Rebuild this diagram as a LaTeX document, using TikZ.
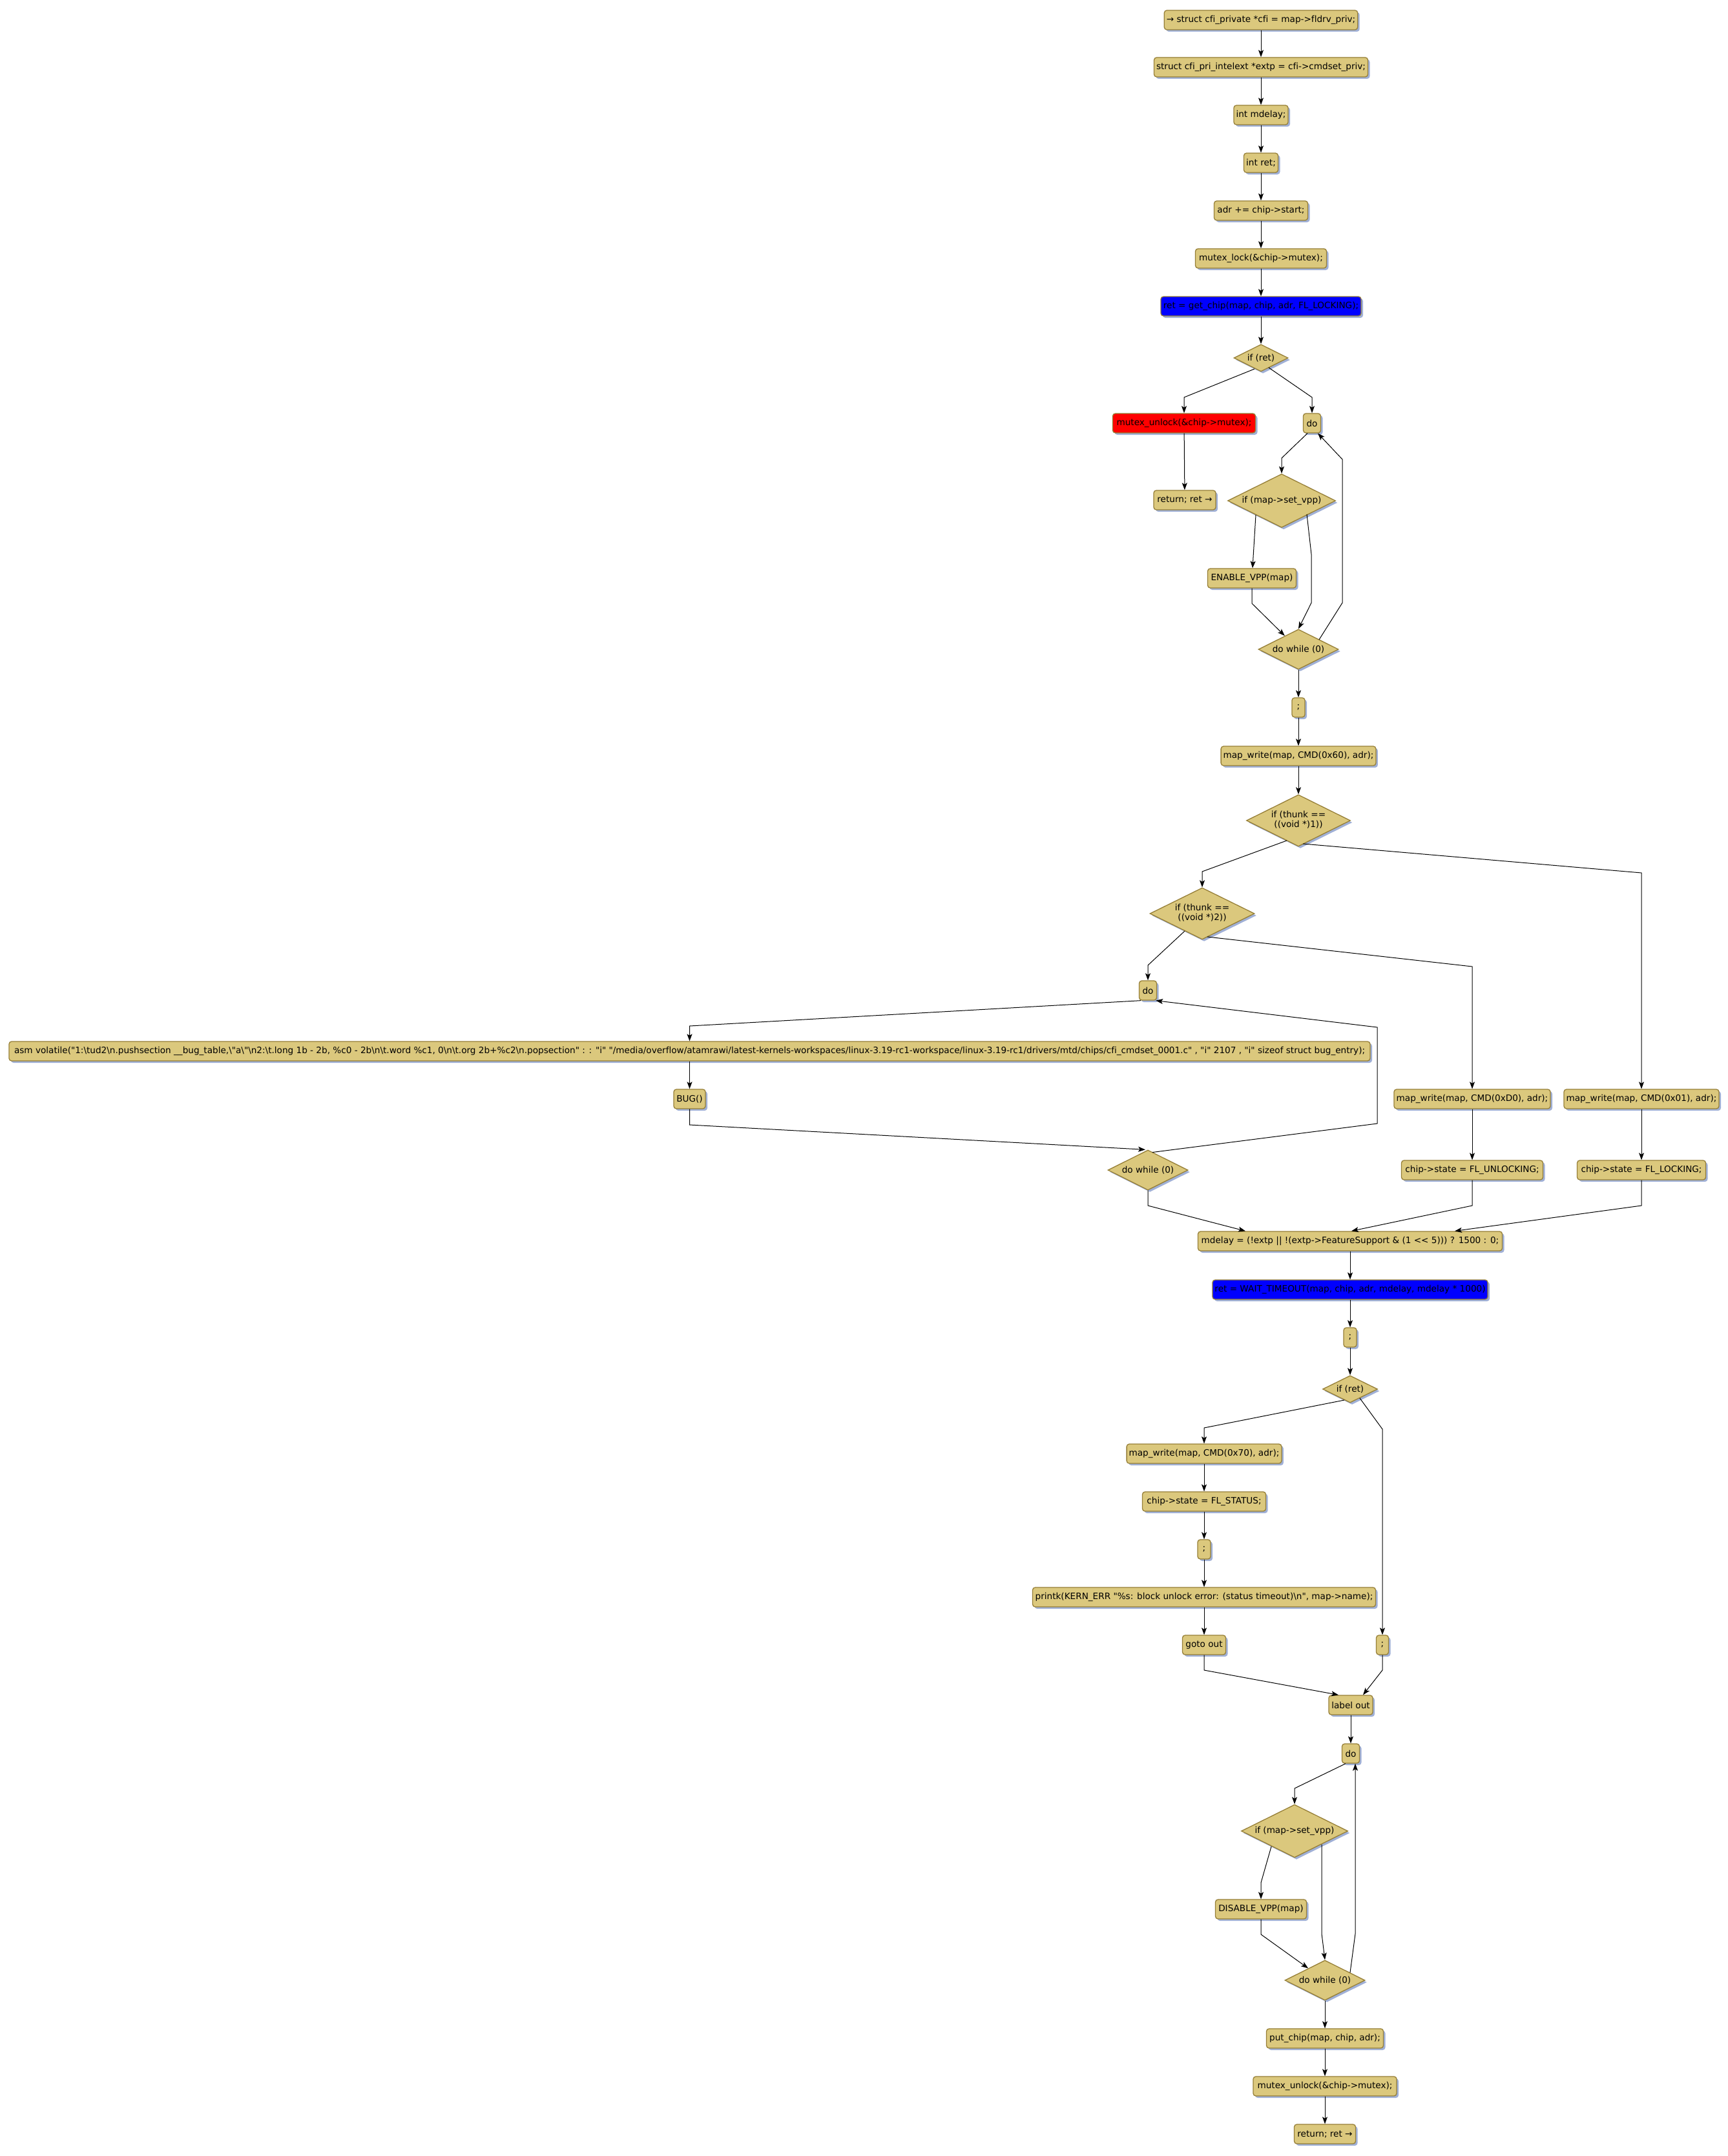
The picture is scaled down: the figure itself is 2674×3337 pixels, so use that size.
\documentclass[tikz,border=0pt]{standalone}
\usepackage{fontspec}
\setmainfont{DejaVu Sans}[Ligatures={TeXOff,CommonOff}]
\usetikzlibrary{shapes.geometric,shadows,arrows.meta}
\definecolor{boxfill}{RGB}{219,200,125}
\definecolor{boxline}{RGB}{150,127,55}
\definecolor{shadowcol}{RGB}{160,176,214}
\definecolor{blueflat}{RGB}{0,0,255}
\definecolor{redflat}{RGB}{255,0,0}
\newcommand\bsl{\textbackslash}
\newcommand\nodefont{\fontsize{13.6}{15.4}\selectfont}
\newcommand\twoline[2]{\makebox[0pt]{\begin{tabular}{@{}c@{}}#1\\#2\end{tabular}}}
\begin{document}
\begin{tikzpicture}[x=1pt,y=-1pt,
  shad/.style={drop shadow={shadow xshift=3pt,shadow yshift=-3pt,fill=shadowcol,opacity=1}},
  box/.style={rectangle,draw=boxline,fill=boxfill,rounded corners=4pt,line width=1.3pt,
    minimum height=30pt,inner xsep=3.5pt,inner ysep=0pt,font=\nodefont,shad},
  bluebox/.style={box,fill=blueflat},
  redbox/.style={box,fill=redflat},
  dia/.style={diamond,draw=boxline,fill=boxfill,line width=1.3pt,inner sep=0pt,font=\nodefont,shad},
  arr/.style={draw=black,line width=1pt,-{Stealth[length=11pt,width=8pt,inset=2.5pt]}}
]
\useasboundingbox (0,0) rectangle (2674,3337);
\fill[white] (0,0) rectangle (2674,3337);

% ---- nodes
\node[box,minimum width=294pt] (n1) at (1952,31) {→ struct cfi\_private *cfi = map->fldrv\_priv;};
\node[box,minimum width=330pt] (n2) at (1952,104) {struct cfi\_pri\_intelext *extp = cfi->cmdset\_priv;};
\node[box,minimum width=84pt] (n3) at (1952,178) {int mdelay;};
\node[box,minimum width=53pt] (n4) at (1952,252) {int ret;};
\node[box,minimum width=145pt] (n5) at (1952,326) {adr += chip->start;};
\node[box,minimum width=203pt] (n6) at (1952,400) {mutex\_lock(\&chip->mutex);};
\node[bluebox,minimum width=310pt] (n7) at (1952,474) {ret = get\_chip(map, chip, adr, FL\_LOCKING);};
\node[dia,minimum width=84pt,minimum height=42pt] (d1) at (1952,554) {\makebox[0pt]{if (ret)}};
\node[redbox,minimum width=221pt] (n8) at (1833,655) {mutex\_unlock(\&chip->mutex);};
\node[box,minimum width=27pt] (n9) at (2031,655) {do};
\node[box,minimum width=96pt] (n10) at (1834,774) {return; ret →};
\node[dia,minimum width=167pt,minimum height=83pt] (d2) at (1984,775) {\makebox[0pt]{if (map->set\_vpp)}};
\node[box,minimum width=137pt] (n11) at (1938,895) {ENABLE\_VPP(map)};
\node[dia,minimum width=124pt,minimum height=62pt] (d3) at (2010,1005) {\makebox[0pt]{do while (0)}};
\node[box,minimum width=20pt] (n12) at (2010,1095) {;};
\node[box,minimum width=239pt] (n13) at (2010,1170) {map\_write(map, CMD(0x60), adr);};
\node[dia,minimum width=161pt,minimum height=80pt] (d4) at (2010,1270) {\twoline{if (thunk ==}{((void *)1))}};
\node[dia,minimum width=162pt,minimum height=80pt] (d5) at (1861,1414) {\twoline{if (thunk ==}{((void *)2))}};
\node[box,minimum width=27pt] (n14) at (1777,1533) {do};
\node[box,minimum width=2107pt] (n15) at (1067.5,1627) {asm volatile("1:\bsl tud2\bsl n.pushsection \_\_bug\_table,\bsl "a\bsl "\bsl n2:\bsl t.long 1b - 2b, \%c0 - 2b\bsl n\bsl t.word \%c1, 0\bsl n\bsl t.org 2b+\%c2\bsl n.popsection" : : "i" "/media/overflow/atamrawi/latest-kernels-workspaces/linux-3.19-rc1-workspace/linux-3.19-rc1/drivers/mtd/chips/cfi\_cmdset\_0001.c" , "i" 2107 , "i" sizeof struct bug\_entry);};
\node[box,minimum width=49pt] (n16) at (1067.5,1701) {BUG()};
\node[dia,minimum width=124pt,minimum height=62pt] (d6) at (1777,1811) {\makebox[0pt]{do while (0)}};
\node[box,minimum width=242pt] (n17) at (2279,1701) {map\_write(map, CMD(0xD0), adr);};
\node[box,minimum width=240pt] (n18) at (2541,1701) {map\_write(map, CMD(0x01), adr);};
\node[box,minimum width=219pt] (n19) at (2279,1811) {chip->state = FL\_UNLOCKING;};
\node[box,minimum width=199pt] (n20) at (2541,1811) {chip->state = FL\_LOCKING;};
\node[box,minimum width=471pt] (n21) at (2090,1921) {mdelay = (!extp || !(extp->FeatureSupport \& (1 << 5))) ? 1500 : 0;};
\node[bluebox,minimum width=426pt] (n22) at (2090,1996) {ret = WAIT\_TIMEOUT(map, chip, adr, mdelay, mdelay * 1000)};
\node[box,minimum width=20pt] (n23) at (2090,2070) {;};
\node[dia,minimum width=85pt,minimum height=42pt] (d7) at (2090,2150) {\makebox[0pt]{if (ret)}};
\node[box,minimum width=238pt] (n24) at (1864,2250) {map\_write(map, CMD(0x70), adr);};
\node[box,minimum width=191pt] (n25) at (1864,2324) {chip->state = FL\_STATUS;};
\node[box,minimum width=20pt] (n26) at (1864,2398) {;};
\node[box,minimum width=531pt] (n27) at (1864,2472) {printk(KERN\_ERR "\%s: block unlock error: (status timeout)\bsl n", map->name);};
\node[box,minimum width=67pt] (n28) at (1864,2546) {goto out};
\node[box,minimum width=19pt] (n29) at (2140,2546) {;};
\node[box,minimum width=68pt] (n30) at (2091,2639) {label out};
\node[box,minimum width=27pt] (n31) at (2091,2714) {do};
\node[dia,minimum width=165pt,minimum height=82pt] (d8) at (2004,2834) {\makebox[0pt]{if (map->set\_vpp)}};
\node[box,minimum width=141pt] (n32) at (1952,2955) {DISABLE\_VPP(map)};
\node[dia,minimum width=124pt,minimum height=62pt] (d9) at (2051,3065) {\makebox[0pt]{do while (0)}};
\node[box,minimum width=181pt] (n33) at (2051,3155) {put\_chip(map, chip, adr);};
\node[box,minimum width=222pt] (n34) at (2051,3229) {mutex\_unlock(\&chip->mutex);};
\node[box,minimum width=95pt] (n35) at (2051,3303) {return; ret →};

% ---- connectors
\draw[arr] (n1) -- (n2);
\draw[arr] (n2) -- (n3);
\draw[arr] (n3) -- (n4);
\draw[arr] (n4) -- (n5);
\draw[arr] (n5) -- (n6);
\draw[arr] (n6) -- (n7);
\draw[arr] (n7) -- (d1);
\draw[arr] ([shift={(-10,17)}]d1.center) -- (1833,615) -- (n8);
\draw[arr] ([shift={(12,15)}]d1.center) -- (2031,615) -- (n9);
\draw[arr] (n8) -- (n10);
\draw[arr] ([xshift=-7pt]n9.south) -- (1984,709) -- (d2);
\draw[arr] ([shift={(-40,22)}]d2.center) -- (n11);
\draw[arr] ([shift={(39,21)}]d2.center) -- (2030,858) -- (2030,933) -- (d3.north);
\draw[arr] (n11) -- (1938,934) -- (d3);
\draw[arr] ([shift={(32,-15)}]d3.center) -- (2078,933) -- (2078,711) -- ([xshift=9pt]n9.south);
\draw[arr] (d3) -- (n12);
\draw[arr] (n12) -- (n13);
\draw[arr] (n13) -- (d4);
\draw[arr] ([shift={(-18,31)}]d4.center) -- (1861,1349) -- (d5);
\draw[arr] ([shift={(7,36)}]d4.center) -- (2541,1351) -- (n18);
\draw[arr] ([shift={(-27,27)}]d5.center) -- (1777,1494) -- (n14);
\draw[arr] ([shift={(8,36)}]d5.center) -- (2279,1496) -- (n17);
\draw[arr] ([xshift=3pt]n14.south west) -- (1067.5,1588) -- (n15);
\draw[arr] (n15) -- (n16);
\draw[arr] (n16) -- (1067.5,1741) -- ([xshift=-4pt]d6.north);
\draw[arr] ([shift={(7,-27.5)}]d6.center) -- (2132,1739) -- (2132,1590) -- ([xshift=-2pt]n14.south east);
\draw[arr] (d6) -- (1777,1866) -- ([xshift=-162pt]n21.north);
\draw[arr] (n17) -- (n19);
\draw[arr] (n18) -- (n20);
\draw[arr] (n19) -- (2279,1866) -- ([xshift=2pt]n21.north);
\draw[arr] (n20) -- (2541,1866) -- ([xshift=162pt]n21.north);
\draw[arr] (n21) -- (n22);
\draw[arr] (n22) -- (n23);
\draw[arr] (n23) -- (d7);
\draw[arr] ([shift={(-9,17)}]d7.center) -- (1864,2210) -- (n24);
\draw[arr] ([shift={(15,14)}]d7.center) -- (2140,2212) -- (n29);
\draw[arr] (n24) -- (n25);
\draw[arr] (n25) -- (n26);
\draw[arr] (n26) -- (n27);
\draw[arr] (n27) -- (n28);
\draw[arr] (n28) -- (1864,2585) -- ([xshift=-19pt]n30.north);
\draw[arr] (n29) -- (2140,2585) -- ([xshift=19pt]n30.north);
\draw[arr] (n30) -- (n31);
\draw[arr] ([xshift=-8pt]n31.south) -- (2004,2768) -- (d8);
\draw[arr] ([shift={(-36,24)}]d8.center) -- (1952,2914) -- (n32);
\draw[arr] ([shift={(42,21)}]d8.center) -- (2046,2993) -- (d9.north);
\draw[arr] (n32) -- (1952,2994) -- (d9);
\draw[arr] ([shift={(39,-12)}]d9.center) -- (2098,2993) -- ([xshift=7pt]n31.south);
\draw[arr] (d9) -- (n33);
\draw[arr] (n33) -- (n34);
\draw[arr] (n34) -- (n35);
\end{tikzpicture}
\end{document}
